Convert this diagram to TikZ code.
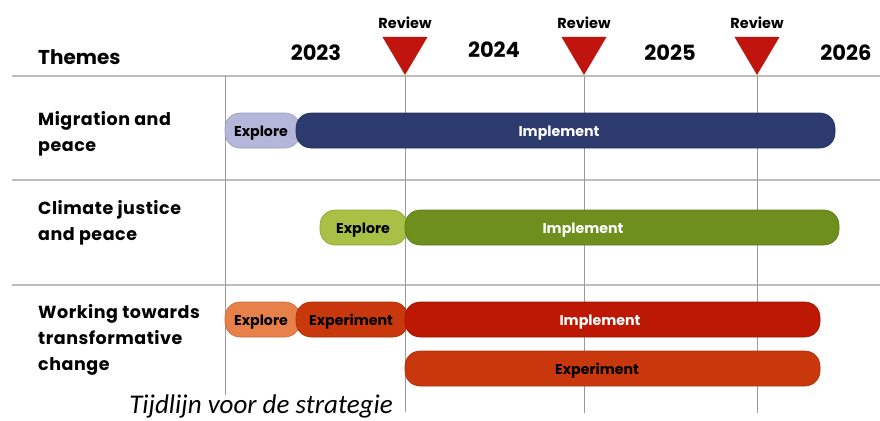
\documentclass[tikz,border=0pt]{standalone}
\usepackage{fontspec}
\setmainfont{Poppins}
\newfontfamily\rowfont[LetterSpace=3]{Poppins}
\newfontfamily\capfont{Carlito}
\definecolor{gridv}{HTML}{9A9A9A}
\definecolor{gridh}{HTML}{BDBDBD}
\definecolor{revred}{HTML}{C0150F}
\definecolor{lav}{HTML}{B4B6DA}
\definecolor{navy}{HTML}{2C3A6E}
\definecolor{lgreen}{HTML}{A8C046}
\definecolor{dgreen}{HTML}{6E8F1E}
\definecolor{lorange}{HTML}{E8804A}
\definecolor{rorange}{HTML}{C8380C}
\definecolor{dred}{HTML}{BC1804}
\begin{document}
\begin{tikzpicture}[x=1pt,y=-1pt,
  pill/.style={rounded corners=15pt, draw=#1!85!black, line width=0.6pt, fill=#1},
  bartext/.style={font=\bfseries\fontsize{14.2}{16}\selectfont, inner sep=0pt, anchor=base},
  yeartext/.style={font=\bfseries\fontsize{21}{24}\selectfont, inner sep=0pt},
  revtext/.style={font=\bfseries\fontsize{14.5}{16}\selectfont, inner sep=0pt},
  rowtext/.style={font=\rowfont\bfseries\fontsize{17.5}{26}\selectfont, inner sep=0pt, anchor=north west, align=left},
  hline/.style={draw=gridh, line width=1.2pt},
  vline/.style={draw=gridv, line width=0.8pt}]
\useasboundingbox (0,0) rectangle (880,420);
% grid
\draw[hline] (12,76) -- (880,76);
\draw[hline] (12,180) -- (880,180);
\draw[hline] (12,285) -- (880,285);
\draw[vline] (225,76) -- (225,395);
\draw[vline] (405,76) -- (405,412);
\draw[vline] (584,76) -- (584,413);
\draw[vline] (757,76) -- (757,413);
% reviews
\foreach \x/\n in {405/r1,584/r2,757/r3}{
  \fill[revred] (\x-22.5,37) -- (\x+22.5,37) -- (\x,75) -- cycle;
  \node[revtext] (\n) at (\x,23) {Review};
}
% headers
\node[yeartext, anchor=west, font=\bfseries\fontsize{20}{24}\selectfont] (themes) at (38,57) {Themes};
\node[yeartext] (y23) at (316,53) {2023};
\node[yeartext] (y24) at (494,50) {2024};
\node[yeartext] (y25) at (670,53) {2025};
\node[yeartext] (y26) at (846,53) {2026};
% row labels
\node[rowtext] (t1) at (38,111) {Migration and\\peace};
\node[rowtext] (t2) at (38,200) {Climate justice\\and peace};
\node[rowtext] (t3) at (38,304) {Working towards\\transformative\\change};
% row 1
\path[pill=lav] (225,113) rectangle (300,148);
\path[pill=navy] (296,113) rectangle (835,148);
\node[bartext] (e1) at (261,136) {Explore};
\node[bartext, text=white] (i1) at (559,136) {Implement};
% row 2
\path[pill=lgreen] (320,210) rectangle (407,245);
\path[pill=dgreen] (405,210) rectangle (839,245);
\node[bartext] (e2) at (363,233) {Explore};
\node[bartext, text=white] (i2) at (583,233) {Implement};
% row 3
\path[pill=lorange] (225,302) rectangle (300,337);
\path[pill=rorange] (296,302) rectangle (408,337);
\path[pill=dred] (405,302) rectangle (820,337);
\node[bartext] (e3) at (261,325) {Explore};
\node[bartext] (x3) at (351,325) {Experiment};
\node[bartext, text=white] (i3) at (600,325) {Implement};
% row 4
\path[pill=rorange] (405,351) rectangle (820,386);
\node[bartext] (x4) at (597,374) {Experiment};
% caption
\node[font=\capfont\itshape\fontsize{27}{30}\selectfont, inner sep=0pt, anchor=base] (cap) at (261,413) {Tijdlijn voor de strategie};
\end{tikzpicture}
\end{document}
